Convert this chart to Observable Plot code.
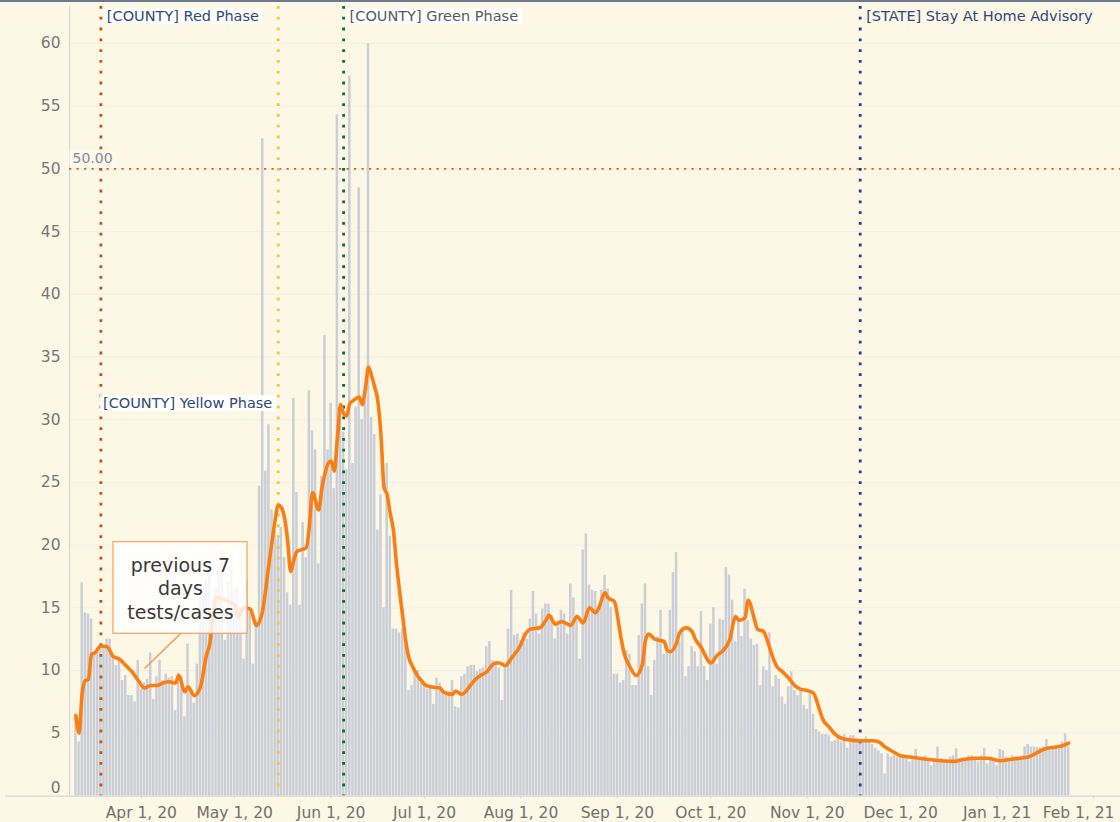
<!DOCTYPE html>
<html><head><meta charset="utf-8">
<script src="https://cdn.jsdelivr.net/npm/d3@7"></script>
<script src="https://cdn.jsdelivr.net/npm/@observablehq/plot@0.6"></script>
<style>
html,body{margin:0;padding:0;background:#fdf7e5;}
#chart{position:relative;width:1120px;height:822px;overflow:hidden;}
#topline{position:absolute;left:0;top:0;width:1120px;height:2px;background:#6b7a90;}
</style></head><body><div id="chart"><div id="topline"></div></div>
<script>
// ---------------- DATA ----------------
const firstDay = "2020-03-11";
const valuesMar = [6.5,4.3,17.0,14.6,14.5,14.1,11.5,11.8,12.0,12.0,12.5,12.5,11.1,10.4,10.8,9.2,9.6,8.0,8.0,7.5,10.8];
const valuesApr = [8.5,9.0,9.3,11.4,7.7,9.5,10.8,9.2,9.7,9.4,9.5,6.8,9.8,9.5,6.3,12.1,8.3,7.4,10.5,16.1,15.7,17.2,18.2,13.0,16.6,18.0,19.6,12.4,17.0,19.3];
const valuesMay = [16.4,16.6,15.0,10.9,17.2,15.0,10.5,14.0,24.7,52.4,25.9,29.6,22.8,21.0,20.5,21.4,19.0,16.2,15.2,31.7,24.2,15.2,21.8,19.0,32.3,29.1,27.6,18.5,25.5,36.7,27.6];
const valuesJun = [31.3,24.5,54.3,31.0,29.0,26.0,57.4,26.5,31.0,48.5,30.0,31.5,60.0,30.2,28.8,21.2,24.0,15.0,26.5,20.7,13.3,13.3,13.0,13.3,12.1,8.4,8.8,10.2,10.0,9.0];
const valuesJul = [8.8,8.5,8.8,7.3,9.4,9.0,8.5,8.1,8.3,9.2,7.1,7.0,9.5,9.7,10.3,10.4,10.4,9.9,10.1,10.2,11.9,12.3,10.8,10.7,10.2,7.6,10.4,13.3,16.4,12.8,12.9];
const valuesAug = [12.4,13.0,12.5,14.1,16.3,14.5,12.9,14.9,15.3,15.3,14.4,12.5,13.5,14.8,14.5,12.9,16.9,15.8,14.0,10.9,19.6,20.9,16.8,16.4,16.3,14.8,16.4,17.6,16.5,15.0,9.7];
const valuesSep = [9.7,9.0,9.2,11.6,11.3,8.8,8.8,12.8,15.3,16.9,10.3,8.0,10.8,12.7,14.8,11.3,12.0,14.8,17.8,19.4,12.3,13.1,9.5,10.3,11.9,11.5,10.3,14.7,10.3,9.2];
const valuesOct = [13.7,15.0,10.5,14.1,14.0,18.2,17.6,15.6,12.3,14.0,12.7,16.5,14.0,12.5,12.0,12.1,8.8,10.3,10.0,13.0,8.7,9.6,9.3,7.9,7.3,8.7,9.9,8.4,8.0,8.4,7.2];
const valuesNov = [6.9,8.3,6.5,5.3,5.1,4.9,4.9,4.8,4.3,4.4,4.7,4.3,4.9,3.8,4.8,4.8,4.6,4.4,4.4,4.7,4.4,4.1,3.8,3.6,3.35,1.75,3.35,3.1,3.2,3.1];
const valuesDec = [3.15,3.1,2.95,2.7,3.1,3.7,2.95,3.0,3.2,2.95,2.4,2.95,3.9,2.95,2.8,2.85,3.1,3.2,3.75,2.95,2.8,3.0,3.2,3.2,3.1,2.7,3.2,3.8,2.55,2.95,2.8];
const valuesJan = [2.4,3.7,3.6,3.1,2.95,3.2,3.1,3.0,3.2,3.9,4.1,3.9,3.9,3.85,3.85,3.9,4.5,3.9,3.9,4.0,4.0,4.3,4.95,3.9];

// previous 7 days tests/cases (orange line), read at visible vertices
const lineDates = ["2020-03-11","2020-03-12","2020-03-13","2020-03-14","2020-03-15","2020-03-16","2020-03-17","2020-03-19","2020-03-21","2020-03-23","2020-03-25","2020-03-27","2020-03-29","2020-03-31",
"2020-04-02","2020-04-04","2020-04-06","2020-04-08","2020-04-10","2020-04-12","2020-04-13","2020-04-15","2020-04-16","2020-04-18","2020-04-20","2020-04-22","2020-04-23","2020-04-24","2020-04-25","2020-04-27",
"2020-05-01","2020-05-02","2020-05-04","2020-05-06","2020-05-08","2020-05-10","2020-05-11","2020-05-12","2020-05-13","2020-05-14","2020-05-15","2020-05-16","2020-05-17","2020-05-18","2020-05-19","2020-05-20","2020-05-21","2020-05-22","2020-05-24","2020-05-25","2020-05-26","2020-05-28","2020-05-29","2020-05-30","2020-05-31",
"2020-06-01","2020-06-02","2020-06-03","2020-06-04","2020-06-05","2020-06-06","2020-06-07","2020-06-08","2020-06-10","2020-06-11","2020-06-12","2020-06-13","2020-06-14","2020-06-15","2020-06-16","2020-06-17","2020-06-18","2020-06-19","2020-06-20","2020-06-21","2020-06-22","2020-06-23","2020-06-24","2020-06-25","2020-06-26","2020-06-27","2020-06-28","2020-06-29","2020-06-30",
"2020-07-01","2020-07-03","2020-07-06","2020-07-07","2020-07-10","2020-07-11","2020-07-13","2020-07-16","2020-07-17","2020-07-19","2020-07-21","2020-07-23","2020-07-24","2020-07-25","2020-07-27","2020-07-29",
"2020-08-01","2020-08-02","2020-08-04","2020-08-07","2020-08-09","2020-08-10","2020-08-12","2020-08-14","2020-08-16","2020-08-17","2020-08-19","2020-08-21","2020-08-23","2020-08-25","2020-08-26","2020-08-28","2020-08-29","2020-08-31",
"2020-09-02","2020-09-03","2020-09-05","2020-09-07","2020-09-09","2020-09-10","2020-09-11","2020-09-13","2020-09-16","2020-09-17","2020-09-18","2020-09-20","2020-09-21","2020-09-23","2020-09-25","2020-09-26","2020-09-28","2020-09-29",
"2020-10-01","2020-10-03","2020-10-05","2020-10-07","2020-10-09","2020-10-10","2020-10-12","2020-10-13","2020-10-15","2020-10-16","2020-10-18","2020-10-19","2020-10-21","2020-10-22","2020-10-24","2020-10-26","2020-10-28","2020-10-30",
"2020-11-01","2020-11-03","2020-11-05","2020-11-06","2020-11-08","2020-11-10","2020-11-12","2020-11-15","2020-11-18","2020-11-22","2020-11-24","2020-11-26","2020-11-28",
"2020-12-01","2020-12-04","2020-12-07","2020-12-10","2020-12-14","2020-12-18","2020-12-21","2020-12-26","2020-12-29",
"2021-01-02","2021-01-05","2021-01-08","2021-01-11","2021-01-15","2021-01-17","2021-01-20","2021-01-22","2021-01-24"];
const lineValues = [6.4,5.0,8.2,9.2,9.3,11.3,11.4,11.95,11.9,11.1,10.9,10.4,9.9,9.2,
8.6,8.8,8.8,9.0,9.1,9.0,9.6,8.3,8.7,8.0,8.7,11.3,12.1,14.25,15.8,15.7,
15.2,14.25,15.0,14.9,13.6,14.8,16.5,18.5,20.3,22.0,23.2,23.0,22.2,20.4,17.9,18.8,19.5,19.6,19.8,21.5,24.2,22.8,24.5,25.7,26.5,
26.7,25.9,28.5,31.2,30.5,30.3,31.3,31.5,31.8,31.2,32.5,34.2,33.5,32.6,31.5,28.8,24.6,24.0,22.5,21.2,18.5,16.3,14.3,12.3,11.0,10.4,9.9,9.5,9.2,
8.9,8.7,8.6,8.3,8.1,8.35,8.1,8.9,9.2,9.6,9.9,10.5,10.6,10.6,10.4,11.0,
12.1,12.7,13.3,13.4,14.0,14.4,13.7,13.9,13.7,13.6,14.3,13.8,15.0,14.6,15.0,16.2,15.8,15.5,
12.8,11.5,10.3,9.6,10.5,12.4,12.9,12.5,12.3,11.6,11.5,12.2,13.0,13.4,13.1,12.5,11.8,11.3,
10.6,11.2,11.6,12.4,14.3,14.0,14.2,15.6,14.1,13.3,13.1,12.5,11.0,10.4,9.9,9.4,8.8,8.5,
8.4,8.2,6.8,6.1,5.5,4.9,4.6,4.45,4.4,4.4,4.3,3.9,3.6,
3.2,3.1,3.0,2.9,2.8,2.75,2.9,3.0,3.0,
2.8,2.9,3.0,3.1,3.6,3.8,3.9,4.0,4.2];

const phaseNames  = ["[COUNTY] Red Phase","[COUNTY] Yellow Phase","[COUNTY] Green Phase","[STATE] Stay At Home Advisory"];
const phaseDates  = ["2020-03-19","2020-05-15","2020-06-05","2020-11-18"];
const phaseColors = ["#c4560c","#f0c540","#03703c","#2639a3"];
const phaseTextColors = ["#2f4a7a","#2f4a7a","#555a60","#2b4a7e"];

const yTicks = [0,5,10,15,20,25,30,35,40,45,50,55,60];
const xTickDates = ["2020-04-01","2020-05-01","2020-06-01","2020-07-01","2020-08-01","2020-09-01","2020-10-01","2020-11-01","2020-12-01","2021-01-01","2021-02-01"];
const thresholdValue = 50;
const thresholdLabel = "50.00";
const noteText = "previous 7\ndays\ntests/cases";

// ---------------- BUILD ----------------
const dailyValues = [].concat(valuesMar,valuesApr,valuesMay,valuesJun,valuesJul,valuesAug,valuesSep,valuesOct,valuesNov,valuesDec,valuesJan);
const start = new Date(firstDay);
const bars = dailyValues.map((v,i) => ({date: d3.utcDay.offset(start, i), value: v}));
const linePts = lineDates.map((d,i) => ({date: new Date(d), value: lineValues[i]}));
const phases = phaseNames.map((n,i) => ({name: n, date: new Date(phaseDates[i]), color: phaseColors[i], textColor: phaseTextColors[i]}));

const xDomain = [new Date("2020-03-08T22:05:00Z"), new Date("2021-02-09T15:36:00Z")];
const FONT = "DejaVu Sans";

// annotation placement (data units)
const note = {x1: new Date("2020-03-23T01:00:00Z"), x2: new Date("2020-05-05T03:00:00Z"), y1: 12.93, y2: 20.23,
  cx: new Date("2020-04-13T14:00:00Z"), cy: 16.6, px: new Date("2020-04-02T00:30:00Z"), py: 10.16};

const marks = [
  Plot.gridY(yTicks.filter(d => d > 0), {stroke: "#f2efe8", strokeOpacity: 1, strokeWidth: 1}),
  Plot.rectY(bars, {x1: d => d3.utcHour.offset(d.date, -12), x2: d => d3.utcHour.offset(d.date, 12), y: "value", fill: "#cacfd7", insetLeft: 0.3, insetRight: 0.3}),
  Plot.ruleX([xDomain[0]], {stroke: "#d6d6d6", strokeWidth: 1}),
  Plot.ruleY([thresholdValue], {stroke: "#d4621c", strokeWidth: 1.8, strokeDasharray: "2.2,5.3"}),
  ...phases.map(p => Plot.ruleX([p.date], {stroke: p.color, strokeWidth: 2.8, strokeDasharray: "2.8,8"})),
  Plot.line(linePts, {x: "date", y: "value", stroke: "#fb7e14", strokeWidth: 3.6, curve: "monotone-x", strokeLinejoin: "round", strokeLinecap: "round"}),
  Plot.axisY(yTicks.filter(d => d > 0), {tickSize: 0, tickPadding: 9, fontSize: 15.5, fill: "#777", stroke: "none"}),
  Plot.axisY([0], {tickSize: 0, tickPadding: 9, fontSize: 15.5, fill: "#777", stroke: "none", dy: -8}),
  Plot.axisX(xTickDates.map(d => new Date(d)), {tickFormat: d3.utcFormat("%b %-d, %y"), tickSize: 3, tickPadding: 8, fontSize: 15.5, fill: "#707070", stroke: "#d6d6d6"}),
  Plot.text([thresholdLabel], {x: xDomain[0], y: thresholdValue, text: d => d, dx: 3, dy: -10, textAnchor: "start", fontSize: 14, fill: "#8a8a8a"}),
  // phase labels
  Plot.text([phases[0]], {x: "date", frameAnchor: "top", lineAnchor: "middle", dy: 10, dx: 6, text: "name", textAnchor: "start", fontSize: 14.5, fill: "textColor"}),
  Plot.text([phases[1]], {x: "date", y: 31.3, dx: -6, text: "name", textAnchor: "end", fontSize: 14.5, fill: "textColor"}),
  Plot.text([phases[2]], {x: "date", frameAnchor: "top", lineAnchor: "middle", dy: 10, dx: 6, text: "name", textAnchor: "start", fontSize: 14.5, fill: "textColor"}),
  Plot.text([phases[3]], {x: "date", frameAnchor: "top", lineAnchor: "middle", dy: 10, dx: 6, text: "name", textAnchor: "start", fontSize: 14.5, fill: "textColor"}),
  // annotation
  Plot.link([note], {x1: "cx", y1: "y1", x2: "px", y2: "py", stroke: "#f7953f", strokeWidth: 1.2}),
  Plot.rect([note], {x1: "x1", x2: "x2", y1: "y1", y2: "y2", fill: "#ffffff", fillOpacity: 0.82, stroke: "#f6a060", strokeWidth: 1.2}),
  Plot.text([note], {x: "cx", y: "cy", text: () => noteText, fontSize: 19, lineHeight: 1.23, fill: "#3a3a3a"})
];

const chart = Plot.plot({
  width: 1120, height: 822,
  marginLeft: 69, marginRight: 0, marginTop: 6, marginBottom: 26.6,
  style: {background: "transparent", fontFamily: FONT, overflow: "visible"},
  x: {type: "utc", domain: xDomain},
  y: {domain: [0, 62.95]},
  color: {type: "identity"},
  marks
});
document.getElementById("chart").appendChild(chart);

// ---------------- POST ----------------
const svg = d3.select(chart);
const ys = chart.scale("y");
svg.append("line").attr("x1", 5).attr("x2", 1120).attr("y1", ys.apply(0) + 0.8).attr("y2", ys.apply(0) + 0.8)
  .attr("stroke", "#d6d6d6").attr("stroke-width", 1.2);

// background boxes behind labels
const boxed = new Map([[phaseNames[0], "#ffffff"], [phaseNames[1], "#ffffff"], [phaseNames[2], "#ffffff"], [thresholdLabel, "#fbf8f1"]]);
svg.selectAll("text").each(function() {
  const t = this.textContent;
  if (boxed.has(t)) {
    const b = this.getBBox();
    const r = document.createElementNS("http://www.w3.org/2000/svg", "rect");
    r.setAttribute("x", b.x - 3); r.setAttribute("y", b.y);
    r.setAttribute("width", b.width + 7); r.setAttribute("height", b.height);
    r.setAttribute("fill", boxed.get(t)); r.setAttribute("fill-opacity", 0.92);
    if (this.getAttribute("transform")) r.setAttribute("transform", this.getAttribute("transform"));
    this.parentNode.insertBefore(r, this);
  }
  if (t === "Feb 1, 21") this.setAttribute("dx", "-15");
});
</script></body></html>
